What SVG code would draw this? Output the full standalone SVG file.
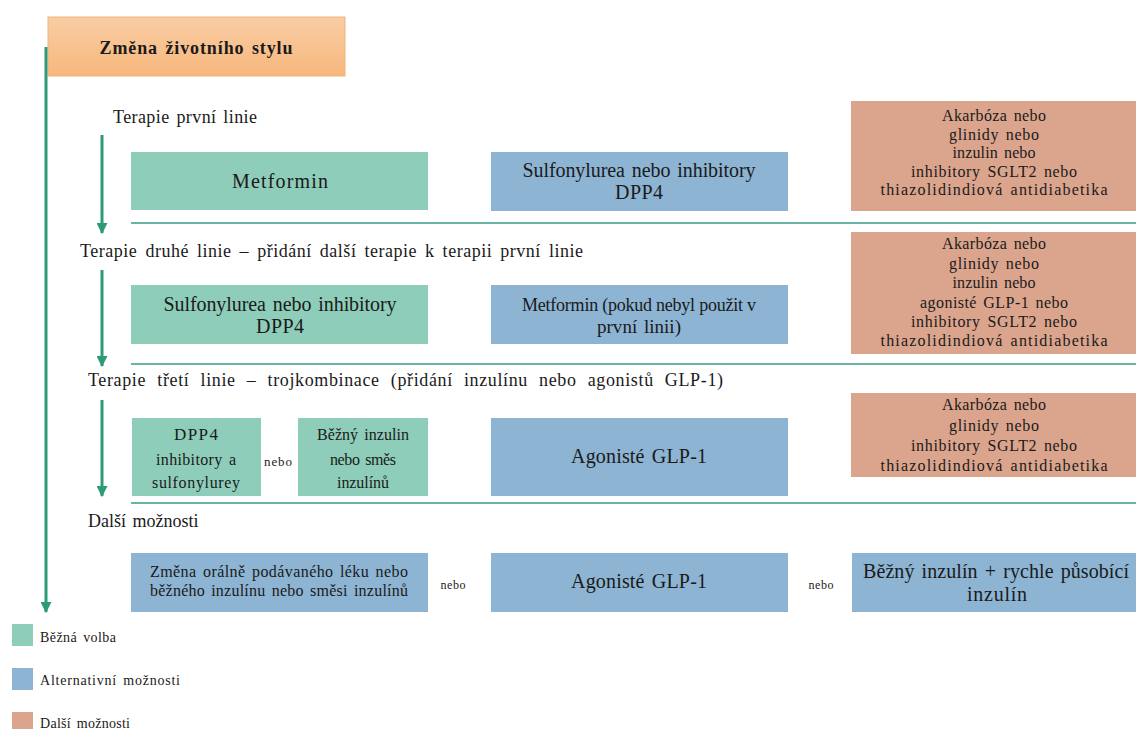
<svg xmlns="http://www.w3.org/2000/svg" width="1136" height="729" viewBox="0 0 1136 729">
<defs>
<marker id="arr" viewBox="0 0 10 10" refX="9" refY="5" markerWidth="11" markerHeight="11" markerUnits="userSpaceOnUse" orient="auto">
<path d="M0,0 L10,5 L0,10 z" fill="#2e9b78"/>
</marker>
<linearGradient id="og" x1="0" y1="0" x2="0" y2="1">
<stop offset="0" stop-color="#f9cda4"/>
<stop offset="1" stop-color="#f7b77c"/>
</linearGradient>
</defs>
<style>
text{font-family:"Liberation Serif","DejaVu Serif","Liberation Sans","DejaVu Sans",serif;fill:#1a1a1a;word-spacing:2px}
.g{fill:#8ecdb9}
.b{fill:#8db4d3}
.r{fill:#daa48d}
.t{font-size:18px}
.m{font-size:20px;text-anchor:middle}
.s{font-size:16px;text-anchor:middle}
.n{font-size:12px;text-anchor:middle}
.l{font-size:14px}
.sep{stroke:#3a9a86;stroke-width:1.3}
.ar{stroke:#2e9b78;stroke-width:3;fill:none}
</style>
<rect width="1136" height="729" fill="#ffffff"/>

<g id="lifestyle">
<rect x="48" y="17" width="297" height="59" fill="url(#og)" stroke="#f0b47a" stroke-width="1"/>
<text x="196" y="54" font-size="18" font-weight="bold" text-anchor="middle" textLength="193" lengthAdjust="spacing">Změna životního stylu</text>
</g>

<g id="headings">
<text class="t" x="113" y="123" textLength="144" lengthAdjust="spacing">Terapie první linie</text>
<text class="t" x="80" y="257" textLength="503" lengthAdjust="spacing" style="word-spacing:3px">Terapie druhé linie – přidání další terapie k terapii první linie</text>
<text class="t" x="88" y="386" textLength="635" lengthAdjust="spacing" style="word-spacing:6px">Terapie třetí linie – trojkombinace (přidání inzulínu nebo agonistů GLP-1)</text>
<text class="t" x="88" y="527">Další možnosti</text>
</g>

<g id="r1-metformin"><rect class="g" x="131" y="152" width="297" height="58"/><text class="m" x="280" y="188" textLength="96" lengthAdjust="spacing">Metformin</text></g>
<g id="r1-sulfo"><rect class="b" x="491" y="152" width="297" height="59"/><text class="m" x="639" y="177" textLength="233" lengthAdjust="spacing">Sulfonylurea nebo inhibitory</text><text class="m" x="639" y="199" textLength="48" lengthAdjust="spacing">DPP4</text></g>
<g id="r1-other"><rect class="r" x="851" y="101" width="285" height="110"/>
<text class="s" x="994" y="121" textLength="104" lengthAdjust="spacing">Akarbóza nebo</text>
<text class="s" x="994" y="140" textLength="90" lengthAdjust="spacing">glinidy nebo</text>
<text class="s" x="994" y="158" textLength="83" lengthAdjust="spacing">inzulin nebo</text>
<text class="s" x="994" y="177" textLength="166" lengthAdjust="spacing">inhibitory SGLT2 nebo</text>
<text class="s" x="994" y="195" textLength="227" lengthAdjust="spacing">thiazolidindiová antidiabetika</text>
</g>

<g id="r2-sulfo"><rect class="g" x="131" y="285" width="297" height="59"/><text class="m" x="280" y="311" textLength="233" lengthAdjust="spacing">Sulfonylurea nebo inhibitory</text><text class="m" x="280" y="333" textLength="48" lengthAdjust="spacing">DPP4</text></g>
<g id="r2-metformin"><rect class="b" x="491" y="285" width="297" height="59"/><text class="m" x="639" y="311" textLength="234" lengthAdjust="spacing" style="font-size:18px;word-spacing:0">Metformin (pokud nebyl použit v</text><text class="m" x="639" y="333" textLength="84" lengthAdjust="spacing" style="font-size:19px">první linii)</text></g>
<g id="r2-other"><rect class="r" x="851" y="232" width="285" height="122"/>
<text class="s" x="994" y="249" textLength="104" lengthAdjust="spacing">Akarbóza nebo</text>
<text class="s" x="994" y="269" textLength="90" lengthAdjust="spacing">glinidy nebo</text>
<text class="s" x="994" y="288" textLength="83" lengthAdjust="spacing">inzulin nebo</text>
<text class="s" x="994" y="308" textLength="148" lengthAdjust="spacing">agonisté GLP-1 nebo</text>
<text class="s" x="994" y="327" textLength="166" lengthAdjust="spacing">inhibitory SGLT2 nebo</text>
<text class="s" x="994" y="346" textLength="227" lengthAdjust="spacing">thiazolidindiová antidiabetika</text>
</g>

<g id="r3-dpp4"><rect class="g" x="132" y="418" width="129" height="78"/>
<text class="s" x="196" y="440" textLength="44" lengthAdjust="spacing" style="font-size:17px">DPP4</text><text class="s" x="196" y="465" textLength="80" lengthAdjust="spacing">inhibitory a</text><text class="s" x="196" y="488" textLength="88" lengthAdjust="spacing">sulfonylurey</text></g>
<g id="r3-nebo"><text class="n" x="278" y="466" textLength="28" lengthAdjust="spacing" style="font-size:13px">nebo</text></g>
<g id="r3-insulin"><rect class="g" x="298" y="418" width="130" height="78"/>
<text class="s" x="363" y="440" textLength="92" lengthAdjust="spacing">Běžný inzulin</text><text class="s" x="363" y="465" textLength="66" lengthAdjust="spacing">nebo směs</text><text class="s" x="363" y="488" textLength="52" lengthAdjust="spacing">inzulínů</text></g>
<g id="r3-glp1"><rect class="b" x="491" y="418" width="297" height="78"/><text class="m" x="639" y="463" textLength="136" lengthAdjust="spacing">Agonisté GLP-1</text></g>
<g id="r3-other"><rect class="r" x="851" y="393" width="285" height="84"/>
<text class="s" x="994" y="410" textLength="104" lengthAdjust="spacing">Akarbóza nebo</text>
<text class="s" x="994" y="431" textLength="90" lengthAdjust="spacing">glinidy nebo</text>
<text class="s" x="994" y="451" textLength="166" lengthAdjust="spacing">inhibitory SGLT2 nebo</text>
<text class="s" x="994" y="471" textLength="227" lengthAdjust="spacing">thiazolidindiová antidiabetika</text>
</g>

<g id="r4-change"><rect class="b" x="131" y="553" width="297" height="59"/>
<text class="s" x="279" y="577" textLength="258" lengthAdjust="spacing">Změna orálně podávaného léku nebo</text>
<text class="s" x="279" y="596" textLength="258" lengthAdjust="spacing">běžného inzulínu nebo směsi inzulínů</text></g>
<g id="r4-nebo1"><text class="n" x="453" y="589" textLength="25" lengthAdjust="spacing">nebo</text></g>
<g id="r4-glp1"><rect class="b" x="491" y="553" width="297" height="59"/><text class="m" x="639" y="588" textLength="136" lengthAdjust="spacing">Agonisté GLP-1</text></g>
<g id="r4-nebo2"><text class="n" x="821" y="589" textLength="25" lengthAdjust="spacing">nebo</text></g>
<g id="r4-insulin"><rect class="b" x="852" y="553" width="284" height="59"/>
<text class="m" x="996" y="578" textLength="266" lengthAdjust="spacing">Běžný inzulín + rychle působící</text>
<text class="m" x="997" y="601" textLength="60" lengthAdjust="spacing">inzulín</text></g>

<g id="connectors">
<line class="sep" x1="131" y1="223" x2="1136" y2="223"/>
<line class="sep" x1="131" y1="364" x2="1136" y2="364"/>
<line class="sep" x1="131" y1="503" x2="1136" y2="503"/>
<line class="ar" x1="46" y1="47" x2="46" y2="612" marker-end="url(#arr)"/>
<line class="ar" x1="102" y1="135" x2="102" y2="233" marker-end="url(#arr)"/>
<line class="ar" x1="102" y1="270" x2="102" y2="366" marker-end="url(#arr)"/>
<line class="ar" x1="102" y1="400" x2="102" y2="496" marker-end="url(#arr)"/>
</g>

<g id="legend">
<rect class="g" x="12" y="624" width="21" height="22"/><text class="l" x="40" y="642" textLength="76" lengthAdjust="spacing">Běžná volba</text>
<rect class="b" x="12" y="668" width="21" height="22"/><text class="l" x="40" y="685" textLength="140" lengthAdjust="spacing">Alternativní možnosti</text>
<rect class="r" x="12" y="712" width="21" height="17"/><text class="l" x="40" y="728" textLength="90" lengthAdjust="spacing">Další možnosti</text>
</g>
</svg>
